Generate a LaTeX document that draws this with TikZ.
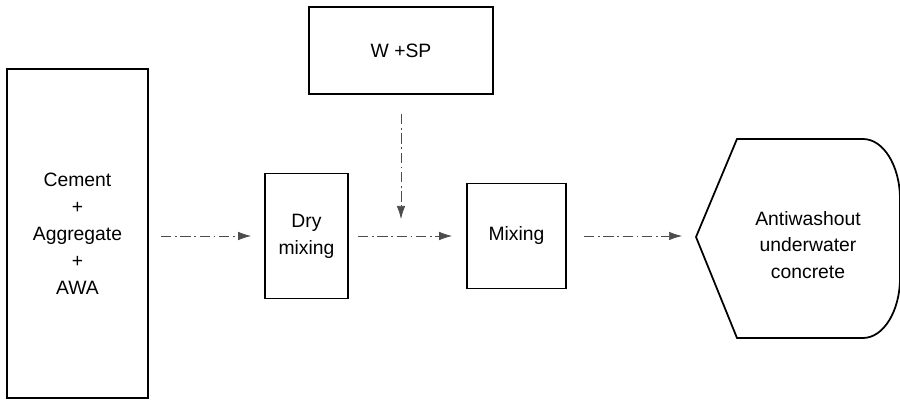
\documentclass[tikz,border=0pt]{standalone}
\usepackage{fontspec}
\setmainfont{Liberation Sans}
\usepackage{tikz}
\usetikzlibrary{arrows.meta}

\begin{document}
\begin{tikzpicture}[
    >={Latex[length=2.6mm,width=1.7mm]},
    every node/.style={font=\fontsize{11}{15.3}\selectfont},
    stagebox/.style={draw, line width=1pt, inner sep=0pt, align=center},
    flow/.style={->, gray!60!black, thin, dash pattern=on 6pt off 2pt on 1pt off 2pt}
]
    \useasboundingbox (0,0) rectangle (18,8);
    \node[stagebox, minimum width=2.82cm, minimum height=6.58cm] (src) at (1.55,3.33) {Cement\\+\\Aggregate\\+\\AWA};
    \node[stagebox, minimum width=1.66cm, minimum height=2.5cm] (dry) at (6.13,3.28) {Dry\\mixing};
    \node[stagebox, minimum width=3.68cm, minimum height=1.74cm] (water) at (8.02,6.99) {W +SP};
    \node[stagebox, minimum width=1.98cm, minimum height=2.1cm] (mix) at (10.33,3.28) {Mixing};
    \draw[line width=1pt] (13.92,3.26) -- (14.74,5.22) -- (17.26,5.22)
        arc[start angle=90, end angle=0, x radius=0.74cm, y radius=1.2cm] -- (18,2.44)
        arc[start angle=0, end angle=-90, x radius=0.74cm, y radius=1.2cm] -- (14.74,1.24) -- cycle;
    \node[align=center] (product) at (16.16,3.1) {Antiwashout\\underwater\\concrete};
    \coordinate (tip) at (13.92,3.28);
    \coordinate (join) at (8.02,3.28);

    \draw[flow, shorten <=0.24cm, shorten >=0.26cm] (src.east |- dry.west) -- (dry.west);
    \draw[flow, shorten <=0.18cm, shorten >=0.28cm] (dry.east) -- (mix.west);
    \draw[flow, shorten <=0.38cm, shorten >=0.34cm] (water.south) -- (join);
    \draw[flow, shorten <=0.34cm, shorten >=0.28cm] (mix.east) -- (tip);
\end{tikzpicture}
\end{document}
